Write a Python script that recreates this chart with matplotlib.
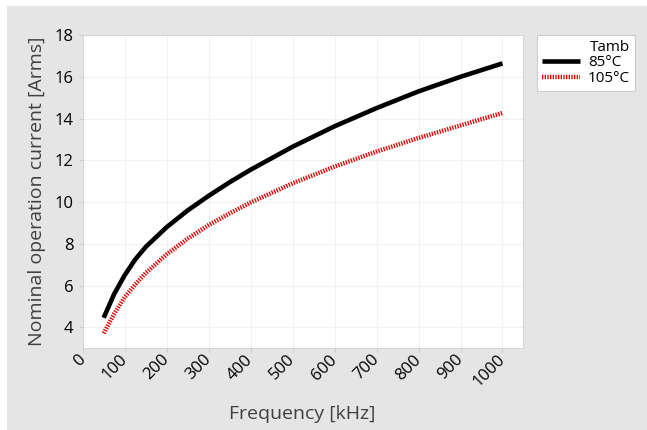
import matplotlib
matplotlib.use("Agg")
import matplotlib.pyplot as plt
from matplotlib.patches import Rectangle

# values
freq_khz = [50, 75, 100, 125, 150, 200, 250, 300, 350, 400, 500, 600, 700, 800, 900, 1000]
current_85 = [4.46, 5.6, 6.5, 7.25, 7.85, 8.8, 9.6, 10.3, 10.95, 11.55, 12.65, 13.63, 14.5, 15.3, 16.0, 16.64]
current_105 = [3.72, 4.65, 5.45, 6.05, 6.6, 7.5, 8.25, 8.9, 9.46, 9.98, 10.9, 11.7, 12.42, 13.07, 13.67, 14.27]
series_labels = ["85°C", "105°C"]
x_ticks = list(range(0, 1001, 100))
y_ticks = list(range(4, 19, 2))

plt.rcParams["font.family"] = ["Open Sans", "DejaVu Sans"]

fig = plt.figure(figsize=(6.47, 4.30), dpi=100)
fig.patch.set_facecolor("white")
# grey panel behind the plot
fig.patches.append(Rectangle((7 / 647, 0), 1, 1 - 6 / 430, transform=fig.transFigure,
                             facecolor="#e5e5e5", edgecolor="none", zorder=-10))

ax = fig.add_axes([0.1278, 0.19, 0.680, 0.7286])
ax.set_facecolor("white")

ax.plot(freq_khz, current_85, color="black", lw=3.3, solid_capstyle="butt",
        solid_joinstyle="round", label=series_labels[0])
ax.plot(freq_khz, current_105, color="#e00000", lw=3.2, dashes=(0.3, 0.3),
        dash_capstyle="butt", label=series_labels[1])

ax.set_xlim(0, 1048)
ax.set_ylim(3.0, 18.0)
ax.set_xticks(x_ticks)
ax.set_yticks(y_ticks)
ax.set_xticklabels([str(t) for t in x_ticks], rotation=45, ha="right", va="center",
                   rotation_mode="anchor", fontsize=12)
ax.tick_params(axis="y", labelsize=12)
ax.tick_params(axis="both", colors="#cccccc", labelcolor="black", length=3, width=0.8)
ax.grid(True, color="#f2f2f2", lw=0.8)
ax.set_axisbelow(True)
for s in ax.spines.values():
    s.set_color("#d6d6d6")
    s.set_linewidth(0.8)

ax.set_xlabel("Frequency [kHz]", fontsize=14, color="#404040", labelpad=11)
ax.set_ylabel("Nominal operation current [Arms]", fontsize=14, color="#404040", labelpad=6)

leg = ax.legend(title="Tamb", loc="upper left", bbox_to_anchor=(1.0325, 1.0), fontsize=11,
                title_fontsize=11, frameon=True, fancybox=False, edgecolor="#cccccc",
                facecolor="white", framealpha=1.0,
                handlelength=2.55, handletextpad=0.5, borderpad=0.3, labelspacing=0.05,
                borderaxespad=0, alignment="right")
leg.get_frame().set_linewidth(0.8)

fig.savefig("out.png", dpi=100)
